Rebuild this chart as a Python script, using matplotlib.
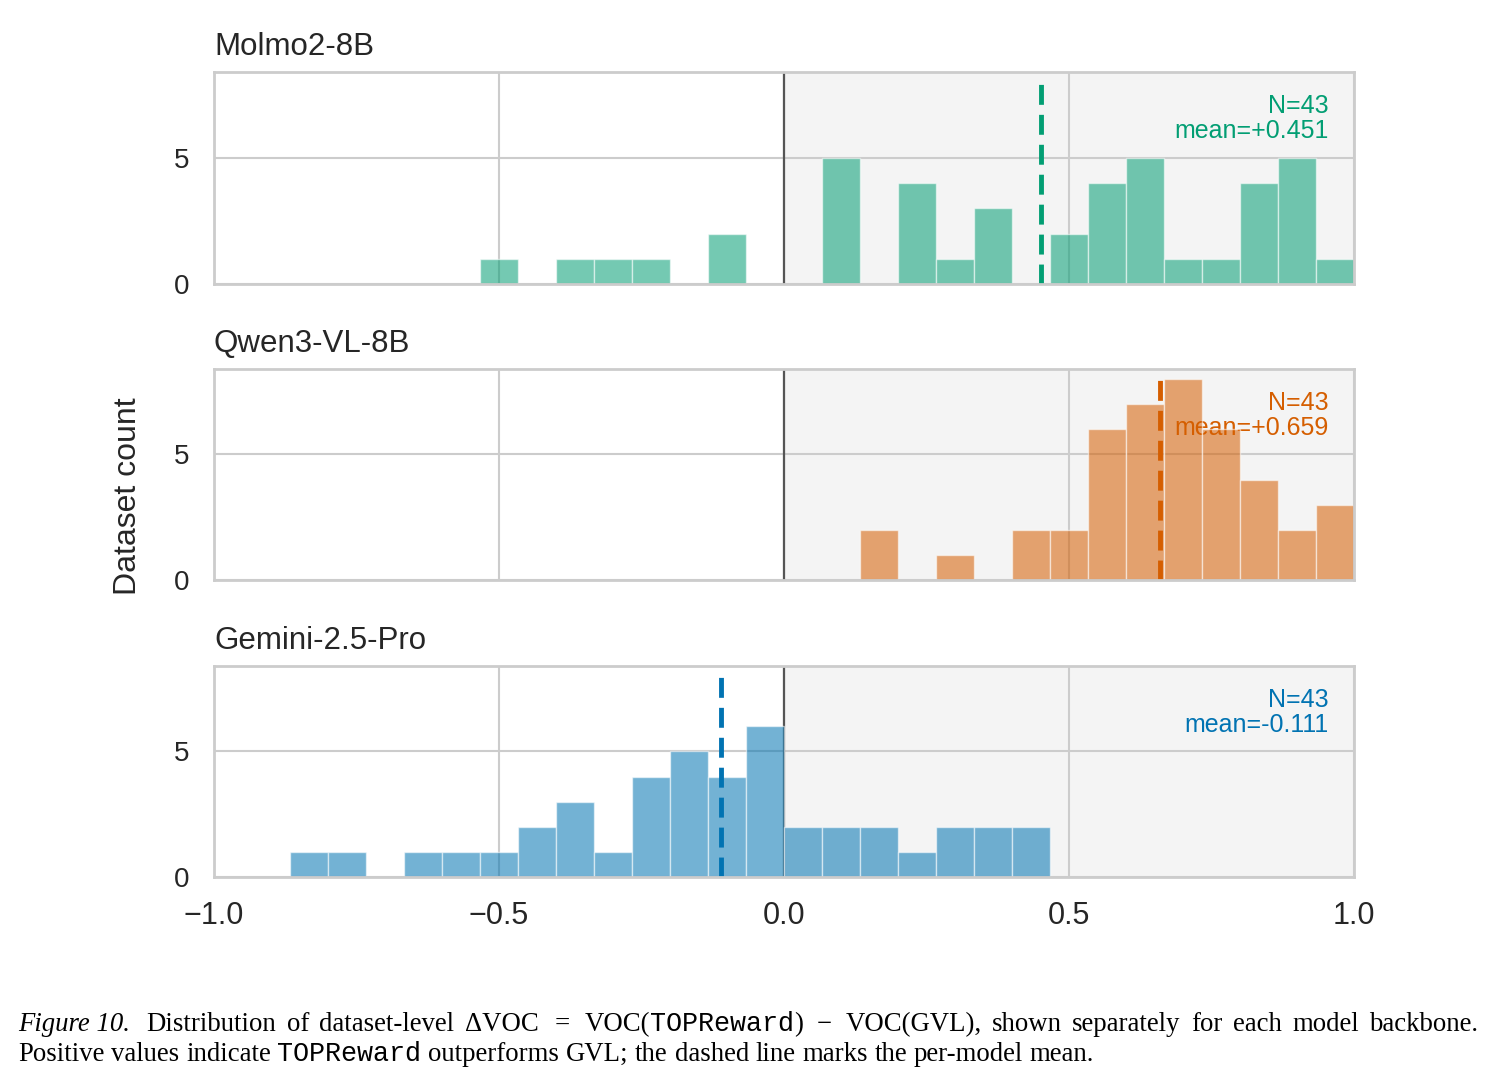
import matplotlib
matplotlib.use("Agg")
import numpy as np
import matplotlib.pyplot as plt

plt.rcParams['font.family'] = ['Liberation Sans', 'DejaVu Sans']

# ---------------- data ----------------
models = ["Molmo2-8B", "Qwen3-VL-8B", "Gemini-2.5-Pro"]
bin_lo, bin_hi, n_bins = -1.0, 1.0, 30
molmo_counts = [0, 0, 0, 0, 0, 0, 0, 1, 0, 1, 1, 1, 0, 2, 0,
                0, 5, 0, 4, 1, 3, 0, 2, 4, 5, 1, 1, 4, 5, 1]
qwen_counts = [0, 0, 0, 0, 0, 0, 0, 0, 0, 0, 0, 0, 0, 0, 0,
               0, 0, 2, 0, 1, 0, 2, 2, 6, 7, 8, 6, 4, 2, 3]
gemini_counts = [0, 0, 1, 1, 0, 1, 1, 1, 2, 3, 1, 4, 5, 4, 6,
                 2, 2, 2, 1, 2, 2, 2, 0, 0, 0, 0, 0, 0, 0, 0]
all_counts = [molmo_counts, qwen_counts, gemini_counts]
means = [0.451, 0.659, -0.111]
n_values = [43, 43, 43]
colors = ["#029E73", "#D55E00", "#0173B2"]
xticks = [-1.0, -0.5, 0.0, 0.5, 1.0]
yticks = [0, 5]

# ---------------- figure ----------------
W, H = 1496, 1083
fig = plt.figure(figsize=(W / 100, H / 100), dpi=100)

panel_px = [(72, 284), (369, 580), (666, 877)]
left_px, right_px = 214, 1354
edges = np.linspace(bin_lo, bin_hi, n_bins + 1)
text_col = "#262626"

axes = []
for i, (top, bot) in enumerate(panel_px):
    ax = fig.add_axes([left_px / W, 1 - bot / H, (right_px - left_px) / W, (bot - top) / H])
    axes.append(ax)
    ax.set_facecolor("white")
    ax.axvspan(0, 1, color="#f4f4f4", lw=0, zorder=0)
    ax.set_axisbelow(True)
    ax.grid(True, color="#cccccc", lw=1.5)
    ax.axvline(0, color="#555555", lw=1.6, zorder=1)
    ax.bar(edges[:-1], all_counts[i], width=np.diff(edges), align="edge",
           color=colors[i], alpha=0.55, edgecolor="white", linewidth=1.0, zorder=2)
    ax.axvline(means[i], ymin=0, ymax=0.95, color=colors[i], lw=3.5,
               ls=(0, (4.1, 2.06)), zorder=3)
    ax.text(0.978, 0.895, f"N={n_values[i]}\nmean={means[i]:+.3f}",
            transform=ax.transAxes, ha="right", va="top", color=colors[i],
            fontsize=18, linespacing=1.05, zorder=1.5)
    ax.set_title(models[i], loc="left", fontsize=22.5, color=text_col, pad=12)
    ax.set_xlim(bin_lo, bin_hi)
    ax.set_ylim(0, 8.4)
    ax.set_yticks(yticks)
    ax.set_xticks(xticks)
    for s in ax.spines.values():
        s.set_color("#cccccc")
        s.set_linewidth(2)
        s.set_zorder(4)
    ax.tick_params(axis="both", length=0, colors=text_col)
    ax.tick_params(axis="y", labelsize=20, pad=18)
    ax.tick_params(axis="x", labelsize=22, pad=17)
    if i < 2:
        ax.tick_params(axis="x", labelbottom=False)

fig.text(128 / W, 1 - 496 / H, "Dataset count", rotation=90, ha="center",
         va="center", fontsize=23, color=text_col)

# ---------------- caption ----------------
fig.canvas.draw()
r = fig.canvas.get_renderer()

styles = {
    "rm": dict(family="Liberation Serif", style="normal"),
    "it": dict(family="Liberation Serif", style="italic"),
    "tt": dict(family="Liberation Mono", style="normal"),
}


def measure(s, st, size):
    t = fig.text(0, 0, s, fontsize=size, **styles[st])
    w = t.get_window_extent(renderer=r).width
    t.remove()
    return w


# tokens: (text, style, gap_weight_before)
line1 = [("Figure 10.", "it", 0), ("Distribution", "rm", 1.6), ("of", "rm", 1),
         ("dataset-level", "rm", 1), ("\u0394VOC", "rm", 1), ("=", "rm", 1.5),
         ("VOC(", "rm", 1.5), ("TOPReward", "tt", 0), (")", "rm", 0),
         ("\u2212", "rm", 1.3), ("VOC(GVL),", "rm", 1.3), ("shown", "rm", 1),
         ("separately", "rm", 1), ("for", "rm", 1), ("each", "rm", 1),
         ("model", "rm", 1), ("backbone.", "rm", 1)]
line2 = [("Positive", "rm", 0), ("values", "rm", 1), ("indicate", "rm", 1),
         ("TOPReward", "tt", 1), ("outperforms", "rm", 1), ("GVL;", "rm", 1),
         ("the", "rm", 1), ("dashed", "rm", 1), ("line", "rm", 1),
         ("marks", "rm", 1), ("the", "rm", 1), ("per-model", "rm", 1),
         ("mean.", "rm", 1)]

base = 16.0
sp = measure("a a", "rm", base) - measure("aa", "rm", base)
nat2 = sum(measure(t, s, base) for t, s, _ in line2) + sp * sum(g for _, _, g in line2)
cs = base * (1097 - 18) / nat2
sp = measure("a a", "rm", cs) - measure("aa", "rm", cs)


def place(tokens, y_px, x0, x1=None):
    widths = [measure(t, s, cs) for t, s, _ in tokens]
    gw = sum(g for _, _, g in tokens)
    gap = sp
    if x1 is not None:
        gap = (x1 - x0 - sum(widths)) / gw
    x = x0
    for (t, s, g), w in zip(tokens, widths):
        x += g * gap
        fig.text(x / W, 1 - y_px / H, t, fontsize=cs, va="baseline", ha="left",
                 color="black", **styles[s])
        x += w


place(line1, 1031, 18, 1478)
place(line2, 1061, 18)

fig.savefig("out.png", dpi=100)
